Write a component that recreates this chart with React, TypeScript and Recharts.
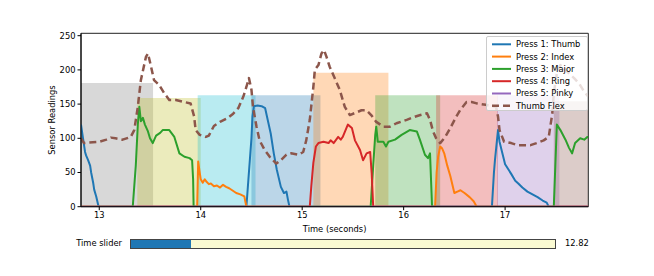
import React from 'react';
import { LineChart, Line, XAxis, YAxis, ReferenceArea } from 'recharts';

// ---- slider / window ----
const sliderMin = 0;
const sliderMax = 91;
const sliderValue = 12.82;
const windowLength = 5;

// ---- axes ----
const xTicks = [13, 14, 15, 16, 17];
const yTicks = [0, 50, 100, 150, 200, 250];
const yMax = 253.5;

// ---- series ----
const seriesNames = ['Press 1: Thumb', 'Press 2: Index', 'Press 3: Major', 'Press 4: Ring', 'Press 5: Pinky', 'Thumb Flex'];
const seriesColors = ['#1f77b4', '#ff7f0e', '#2ca02c', '#d62728', '#9467bd', '#8c564b'];

const thumb: [number, number][] = [
  [12.82, 120], [12.84, 100], [12.86, 80], [12.87, 75], [12.89, 68], [12.91, 60], [12.92, 50], [12.94, 35], [12.95, 25], [12.97, 15], [12.99, 2], [13.0, 0],
  [14.45, 0], [14.47, 40], [14.485, 70], [14.5, 100], [14.51, 132], [14.525, 147], [14.56, 148], [14.6, 147], [14.635, 144], [14.66, 127], [14.69, 107], [14.72, 78], [14.75, 54], [14.79, 29], [14.82, 20], [14.845, 22], [14.86, 10], [14.875, 0],
  [16.87, 0], [16.89, 50], [16.9, 68], [16.915, 90], [16.93, 112], [16.945, 95], [16.97, 80], [17.0, 62], [17.03, 55], [17.06, 48], [17.1, 38], [17.13, 34], [17.17, 28], [17.22, 22], [17.27, 18], [17.32, 14], [17.37, 9], [17.41, 6], [17.43, 0],
  [17.82, 0],
];

const index: [number, number][] = [
  [12.82, 0], [13.965, 0], [13.975, 66], [13.99, 50], [14.0, 40], [14.02, 35], [14.04, 40], [14.06, 36], [14.08, 33], [14.1, 34], [14.13, 30], [14.16, 31], [14.19, 28], [14.22, 32], [14.25, 29], [14.28, 27], [14.31, 24], [14.35, 20], [14.39, 18], [14.43, 15], [14.45, 0],
  [16.31, 0], [16.325, 50], [16.34, 73], [16.36, 88], [16.38, 85], [16.4, 78], [16.43, 60], [16.46, 45], [16.5, 20], [16.53, 22], [16.56, 24], [16.6, 20], [16.65, 14], [16.69, 8], [16.72, 0],
  [17.82, 0],
];

const major: [number, number][] = [
  [12.82, 0], [13.33, 0], [13.36, 60], [13.38, 120], [13.395, 146], [13.41, 125], [13.43, 130], [13.45, 120], [13.48, 110], [13.5, 100], [13.527, 93], [13.56, 104], [13.6, 108], [13.625, 112], [13.69, 112], [13.74, 102], [13.79, 78], [13.84, 73], [13.89, 71], [13.915, 68], [13.925, 40], [13.93, 0],
  [15.675, 0], [15.7, 60], [15.72, 105], [15.73, 117], [15.745, 95], [15.8, 95], [15.826, 88], [15.85, 95], [15.915, 98], [15.98, 105], [16.06, 112], [16.13, 110], [16.16, 98], [16.21, 76], [16.24, 71], [16.26, 78], [16.275, 20], [16.28, 0],
  [17.48, 0], [17.495, 60], [17.51, 120], [17.545, 112], [17.595, 98], [17.63, 86], [17.66, 78], [17.69, 93], [17.74, 100], [17.78, 98], [17.81, 102], [17.82, 101],
];

const ring: [number, number][] = [
  [12.82, 0], [15.075, 0], [15.09, 30], [15.11, 64], [15.135, 88], [15.16, 93], [15.21, 95], [15.26, 93], [15.28, 97], [15.31, 93], [15.355, 102], [15.38, 98], [15.4, 102], [15.45, 120], [15.49, 115], [15.52, 97], [15.57, 83], [15.6, 68], [15.635, 78], [15.67, 80], [15.685, 49], [15.7, 0],
  [17.82, 0],
];

const pinky: [number, number][] = [[12.82, 0], [17.82, 0]];

const thumbFlex: [number, number][] = [
  [12.82, 100], [12.85, 93], [12.9, 94], [13.0, 95], [13.07, 98], [13.115, 101], [13.16, 100], [13.23, 98], [13.31, 102], [13.345, 112], [13.38, 146], [13.41, 185], [13.46, 219], [13.48, 224], [13.51, 205], [13.54, 185], [13.59, 178], [13.64, 166], [13.69, 156], [13.755, 156], [13.84, 153], [13.9, 151], [13.935, 132], [13.95, 112], [13.99, 105], [14.05, 102], [14.08, 104], [14.13, 118], [14.19, 124], [14.26, 129], [14.32, 136], [14.37, 144], [14.42, 161], [14.45, 175], [14.475, 188], [14.5, 171], [14.515, 146], [14.55, 117], [14.58, 97], [14.63, 83], [14.68, 73], [14.745, 63], [14.79, 68], [14.845, 76], [14.89, 78], [14.96, 76], [15.01, 80], [15.04, 97], [15.075, 127], [15.11, 175], [15.125, 200], [15.16, 207], [15.19, 224], [15.215, 229], [15.24, 219], [15.27, 205], [15.32, 188], [15.37, 171], [15.42, 146], [15.47, 134], [15.52, 137], [15.585, 141], [15.635, 141], [15.68, 134], [15.73, 124], [15.8, 117], [15.865, 117], [15.93, 122], [16.03, 127], [16.1, 131], [16.165, 134], [16.23, 136.5], [16.26, 127], [16.29, 110], [16.32, 100], [16.36, 93], [16.41, 102], [16.46, 115], [16.52, 132], [16.56, 142], [16.62, 153], [16.67, 153], [16.72, 151], [16.81, 149], [16.86, 147], [16.91, 146], [16.93, 132], [16.945, 112], [16.99, 95], [17.06, 93], [17.12, 90], [17.19, 90], [17.25, 90], [17.31, 93], [17.38, 97], [17.43, 102], [17.465, 136], [17.48, 166], [17.51, 195], [17.545, 207], [17.58, 202], [17.63, 195], [17.68, 188], [17.73, 180], [17.78, 168], [17.82, 161],
];

// ---- shaded press windows: [start, end, top] ----
const spans: [number, number, number][] = [
  [12.82, 13.53, 181], [13.375, 14.0, 159], [13.97, 14.54, 163], [14.5, 15.18, 163], [15.11, 15.85, 196],
  [15.72, 16.36, 163], [16.32, 16.93, 163], [16.92, 17.535, 163], [17.48, 17.82, 154],
];
const spanColors = ['#7f7f7f', '#bcbd22', '#17becf', '#1f77b4', '#ff7f0e', '#2ca02c', '#d62728', '#9467bd', '#8c564b'];

const allSeries = [thumb, index, major, ring, pinky, thumbFlex];

const FONT = "'DejaVu Sans', sans-serif";
const FS = 8.33;

const xDomain: [number, number] = [sliderValue, sliderValue + windowLength];

function LegendBox() {
  const rowH = 12.3;
  return (
    <div style={{ position: 'absolute', left: 486, top: 36, width: 102, height: 75, background: 'rgba(255,255,255,0.8)', border: '1px solid #cccccc', borderRadius: 2, boxSizing: 'border-box' }}>
      <svg width={102} height={75} style={{ position: 'absolute', left: -1, top: -1 }}>
        {seriesNames.map((name, i) => {
          const y = 8.3 + i * rowH;
          const dashed = i === 5;
          return (
            <g key={name}>
              <line x1={6} x2={25} y1={y} y2={y} stroke={seriesColors[i]} strokeWidth={dashed ? 2.5 : 2} strokeDasharray={dashed ? '7 4' : undefined} />
              <text x={30} y={y} dy="0.35em" fontFamily={FONT} fontSize={FS} fill="#000">{name}</text>
            </g>
          );
        })}
      </svg>
    </div>
  );
}

function Slider() {
  const left = 130;
  const width = 426;
  const fillW = ((sliderValue - sliderMin) / (sliderMax - sliderMin)) * width;
  return (
    <>
      <div style={{ position: 'absolute', left: 0, width: 122, top: 238, height: 11, lineHeight: '11px', textAlign: 'right', fontFamily: FONT, fontSize: FS, color: '#000' }}>Time slider</div>
      <div style={{ position: 'absolute', left, top: 239, width, height: 10, boxSizing: 'border-box', background: '#fafad2', border: '1px solid #444' }}>
        <div style={{ position: 'absolute', left: 0, top: 0, width: fillW, height: '100%', background: '#1f77b4' }} />
      </div>
      <div style={{ position: 'absolute', left: 565, top: 238, height: 11, lineHeight: '11px', fontFamily: FONT, fontSize: FS, color: '#000' }}>{sliderValue.toFixed(2)}</div>
    </>
  );
}

export default function App() {
  return (
    <div style={{ position: 'absolute', left: 0, top: 0, width: 654, height: 276, background: '#fff', overflow: 'hidden' }}>
      <LineChart width={654} height={276} margin={{ top: 33.3, right: 65.7, left: 41, bottom: 44.3 }}>
        <XAxis
          dataKey="t"
          type="number"
          domain={xDomain}
          allowDataOverflow
          ticks={xTicks}
          tickSize={3.5}
          tickMargin={2}
          height={25}
          stroke="#000"
          tick={{ fontFamily: FONT, fontSize: FS, fill: '#000' }}
          label={{ value: 'Time (seconds)', position: 'insideBottom', offset: 0, style: { fontFamily: FONT, fontSize: FS, fill: '#000' } }}
        />
        <YAxis
          type="number"
          domain={[0, yMax]}
          allowDataOverflow
          ticks={yTicks}
          tickSize={3.5}
          tickMargin={2}
          width={40}
          stroke="#000"
          tick={{ fontFamily: FONT, fontSize: FS, fill: '#000' }}
          label={{ value: 'Sensor Readings', angle: -90, position: 'insideLeft', offset: 11, style: { textAnchor: 'middle', fontFamily: FONT, fontSize: FS, fill: '#000' } }}
        />
        {spans.map(([a, b, top], i) => (
          <ReferenceArea key={'s' + i} x1={a} x2={b} y1={0} y2={top} fill={spanColors[i]} fillOpacity={0.3} stroke="none" ifOverflow="hidden" />
        ))}
        {allSeries.map((s, i) => (
          <Line
            key={seriesNames[i]}
            data={s.map(([t, v]) => ({ t, v }))}
            dataKey="v"
            name={seriesNames[i]}
            type="linear"
            stroke={seriesColors[i]}
            strokeWidth={i === 5 ? 2.5 : 2}
            strokeDasharray={i === 5 ? '7 4' : undefined}
            strokeLinejoin="round"
            dot={false}
            activeDot={false}
            isAnimationActive={false}
          />
        ))}
        <ReferenceArea x1={xDomain[0]} x2={xDomain[1]} y1={0} y2={yMax} fill="none" stroke="#222" strokeWidth={1} />
      </LineChart>
      <LegendBox />
      <Slider />
    </div>
  );
}
